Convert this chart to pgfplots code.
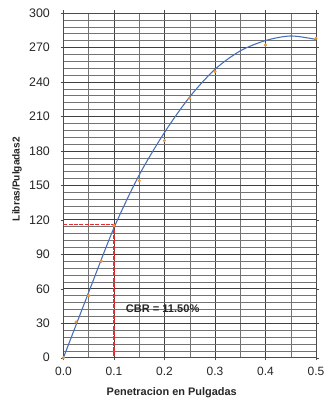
\documentclass[border=0pt]{standalone}
\usepackage{pgfplots}
\pgfplotsset{compat=1.18}
\usepackage{fontspec}
\setmainfont{Liberation Sans}
\definecolor{curveblue}{RGB}{70,110,185}
\definecolor{ptorange}{RGB}{235,150,60}
\definecolor{cbrred}{RGB}{230,45,45}
\begin{document}
\begin{tikzpicture}
\begin{axis}[
  scale only axis,
  width=189.4pt, height=258.5pt,
  xmin=0, xmax=0.5, ymin=0, ymax=300,
  xtick={0,0.1,0.2,0.3,0.4,0.5},
  xticklabels={0.0,0.1,0.2,0.3,0.4,0.5},
  minor xtick={0.05,0.15,0.25,0.35,0.45},
  ytick={0,30,...,300},
  minor y tick num=4,
  grid=both,
  major grid style={black!75, line width=0.5pt},
  minor grid style={black!55, line width=0.35pt},
  axis line style={black!70, line width=0.5pt},
  tick style={black!70},
  tick align=outside,
  major tick length=2pt,
  minor tick length=0pt,
  /pgf/number format/assume math mode=true,
  ticklabel style={text=black!85, inner sep=0pt},
  yticklabel style={anchor=east, xshift=-8pt, font=\fontsize{9.3}{10}\selectfont},
  xticklabel style={anchor=north, yshift=-5pt, font=\fontsize{9}{10}\selectfont},
  clip=false,
]
% trend curve
\addplot[curveblue, line width=0.8pt, smooth, tension=0.5] coordinates {
 (0,0) (0.05,57) (0.1,113) (0.15,159) (0.2,196) (0.25,227) (0.3,251) (0.35,267) (0.4,276) (0.45,280) (0.5,277)
};
% measured points
\addplot[only marks, mark=*, mark size=1pt, color=ptorange] coordinates {
 (0,0) (0.025,31) (0.05,54) (0.075,84) (0.1,115) (0.15,154) (0.2,189) (0.25,226) (0.3,249) (0.4,272) (0.5,278)
};
% CBR lines
\addplot[cbrred, line width=1.1pt, dash pattern=on 3pt off 1pt] coordinates {(0,116) (0.1,116)};
\addplot[cbrred, line width=1.1pt, dash pattern=on 3pt off 1pt] coordinates {(0.1,116) (0.1,0)};
\node[anchor=west, font=\fontsize{8.3}{10}\selectfont\bfseries, text=black!85, inner sep=0pt] at (axis cs:0.123,43) {CBR = 11.50\%};
\end{axis}
\node[font=\fontsize{8.2}{10}\selectfont\bfseries, text=black!85, inner sep=0pt] at ([xshift=-13.5pt,yshift=-26.5pt]current axis.south) {Penetracion en Pulgadas};
\node[rotate=90, font=\fontsize{7.6}{10}\selectfont\bfseries, text=black!85, inner sep=0pt] at ([xshift=-34.9pt,yshift=4.7pt]current axis.west) {Libras/Pulgadas2};
\pgfresetboundingbox
\path ([shift={(-47.6pt,-34pt)}]current axis.south west) rectangle ([shift={(10.5pt,9.75pt)}]current axis.north east);
\end{tikzpicture}
\end{document}
